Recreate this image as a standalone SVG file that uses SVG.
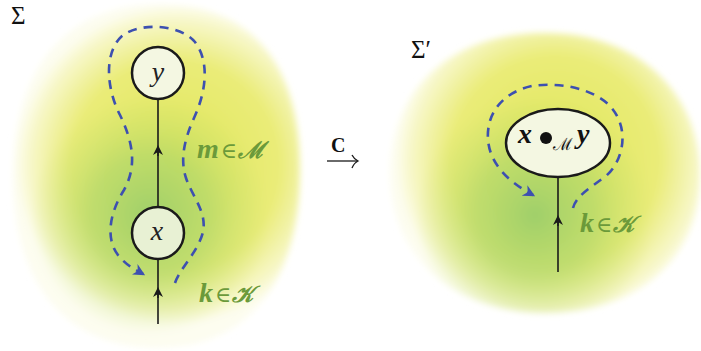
<svg xmlns="http://www.w3.org/2000/svg" width="701" height="351" viewBox="0 0 701 351">
<style>
.node{fill:#f4f7e2;stroke:#1a1a1a;stroke-width:2.5}
.wire{stroke:#1a1a1a;stroke-width:1.6;fill:none}
.loop{stroke:#3d50b0;stroke-width:2.6;fill:none;stroke-dasharray:9 7}
.math{font-family:"Liberation Serif","DejaVu Serif",serif;font-style:italic}
.lab{font-family:"Liberation Serif","DejaVu Serif",serif;font-style:italic;font-weight:bold;fill:#6b9a3a;font-size:28px}
.sym{font-family:"DejaVu Serif",serif;font-style:normal;font-weight:normal;font-size:22px}
.scr{font-family:"DejaVu Serif",serif;font-size:23px}
.sig{font-family:"Liberation Serif","DejaVu Serif",serif;font-size:25px;fill:#111}
</style>
<defs>
<radialGradient id="gY1" cx="175" cy="165" r="160" gradientUnits="userSpaceOnUse">
<stop offset="0" stop-color="#dfe65a"/>
<stop offset="0.65" stop-color="#eaec78"/>
<stop offset="0.9" stop-color="#f7f7c8"/>
<stop offset="1" stop-color="#fdfdf0"/>
</radialGradient>
<radialGradient id="gG1" cx="150" cy="215" r="120" gradientUnits="userSpaceOnUse">
<stop offset="0" stop-color="#9fcf6a" stop-opacity="1"/>
<stop offset="0.5" stop-color="#b0d76a" stop-opacity="0.7"/>
<stop offset="1" stop-color="#c8e06a" stop-opacity="0"/>
</radialGradient>
<radialGradient id="gY2" cx="555" cy="160" r="160" gradientUnits="userSpaceOnUse">
<stop offset="0" stop-color="#dfe65a"/>
<stop offset="0.65" stop-color="#eaec78"/>
<stop offset="0.9" stop-color="#f7f7c8"/>
<stop offset="1" stop-color="#fdfdf0"/>
</radialGradient>
<radialGradient id="gG2" cx="535" cy="215" r="120" gradientUnits="userSpaceOnUse">
<stop offset="0" stop-color="#9fcf6a" stop-opacity="1"/>
<stop offset="0.5" stop-color="#b0d76a" stop-opacity="0.7"/>
<stop offset="1" stop-color="#c8e06a" stop-opacity="0"/>
</radialGradient>
<filter id="soft" x="-10%" y="-10%" width="120%" height="120%"><feGaussianBlur stdDeviation="3"/></filter>
<marker id="tri" viewBox="0 0 10 10" refX="5" refY="5" markerWidth="10" markerHeight="10" orient="auto" markerUnits="userSpaceOnUse">
<path d="M0,0 L10,5 L0,10 L3,5 Z" fill="#1a1a1a"/>
</marker>
<marker id="bluehead" viewBox="0 0 10 10" refX="8" refY="5" markerWidth="12" markerHeight="12" orient="auto" markerUnits="userSpaceOnUse">
<path d="M0,0 L10,5 L0,10 L3,5 Z" fill="#3d50b0"/>
</marker>
</defs>

<g id="blob-left" filter="url(#soft)">
<path d="M160,4 C250,4 300,62 300,170 C300,282 248,348 158,348 C68,348 13,286 13,176 C13,64 70,4 160,4 Z" fill="url(#gY1)"/>
<path d="M160,4 C250,4 300,62 300,170 C300,282 248,348 158,348 C68,348 13,286 13,176 C13,64 70,4 160,4 Z" fill="url(#gG1)"/>
</g>
<g id="blob-right" filter="url(#soft)">
<path d="M545,33 C640,33 700,95 700,175 C700,262 635,313 545,313 C455,313 390,258 390,172 C390,90 450,33 545,33 Z" fill="url(#gY2)"/>
<path d="M545,33 C640,33 700,95 700,175 C700,262 635,313 545,313 C455,313 390,258 390,172 C390,90 450,33 545,33 Z" fill="url(#gG2)"/>
</g>

<text class="sig" x="11" y="24">Σ</text>
<text class="sig" x="411" y="58">Σ′</text>

<g id="connectors">
<line class="wire" x1="158" y1="99" x2="158" y2="207"/>
<path d="M158,156 L158,150" class="wire" marker-end="url(#tri)"/>
<line class="wire" x1="158" y1="259" x2="158" y2="324"/>
<path d="M158,298 L158,292" class="wire" marker-end="url(#tri)"/>
<path class="loop" marker-end="url(#bluehead)" d="M175,283 C180,268 198,252 203,232 C207,212 193,198 186,178 C180,160 184,140 194,118 C206,92 210,62 195,42 C180,24 140,22 122,36 C104,52 106,88 120,115 C132,140 138,165 124,190 C110,212 105,238 118,255 C126,265 134,269 143,274"/>
<line class="wire" x1="558" y1="177" x2="558" y2="272"/>
<path d="M558,226 L558,220" class="wire" marker-end="url(#tri)"/>
<path class="loop" marker-end="url(#bluehead)" d="M573,208 C576,196 590,188 606,176 C624,160 630,128 610,106 C592,88 560,82 532,86 C504,92 486,112 488,140 C490,162 505,180 533,195"/>
<line x1="327" y1="161" x2="357" y2="161" stroke="#1a1a1a" stroke-width="1.3"/>
<path d="M352,155 Q354,159 358,161 Q354,163 352,168" fill="none" stroke="#1a1a1a" stroke-width="1.3"/>
</g>
<text x="331" y="152" style="font-family:'Liberation Serif','DejaVu Serif',serif;font-weight:bold;font-size:20px;fill:#111">C</text>

<g id="node-y">
<circle class="node" cx="158" cy="73" r="26"/>
<text class="math" x="158" y="81" text-anchor="middle" font-size="28" fill="#222">y</text>
</g>
<g id="node-x">
<circle class="node" cx="158" cy="233" r="26" style="fill:#e8f1d4"/>
<text class="math" x="157" y="240" text-anchor="middle" font-size="28" fill="#222">x</text>
</g>
<g id="node-xy">
<ellipse class="node" cx="558" cy="143" rx="52" ry="34"/>
<text class="math" x="518" y="143" font-size="28" font-weight="bold" fill="#111">x</text>
<circle cx="546" cy="138" r="6" fill="#111"/>
<text x="553" y="150" style="font-family:'DejaVu Serif',serif;font-size:17px;fill:#111">ℳ</text>
<text class="math" x="577" y="143" font-size="28" font-weight="bold" fill="#111">y</text>
</g>

<text class="lab" x="197" y="158">m<tspan class="sym" dx="2">∈</tspan><tspan class="scr" dx="1">ℳ</tspan></text>
<text class="lab" x="199" y="302">k<tspan class="sym" dx="2">∈</tspan><tspan class="scr" dx="1">𝒦</tspan></text>
<text class="lab" x="580" y="232">k<tspan class="sym" dx="2">∈</tspan><tspan class="scr" dx="1">𝒦</tspan></text>
</svg>
